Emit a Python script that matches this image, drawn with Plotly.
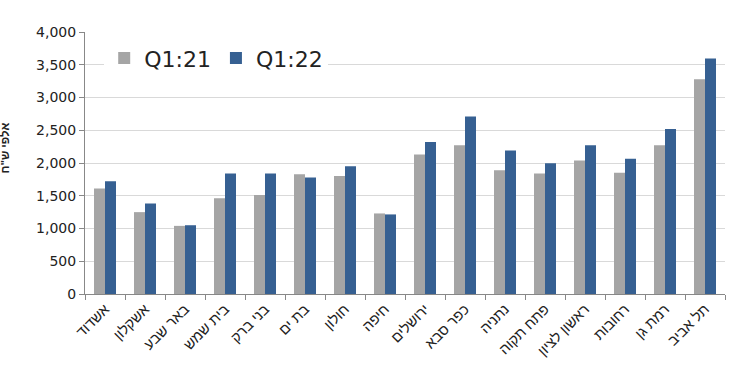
import plotly.graph_objects as go

cities = ["אשדוד", "אשקלון", "באר שבע", "בית שמש", "בני ברק", "בת ים", "חולון", "חיפה",
          "ירושלים", "כפר סבא", "נתניה", "פתח תקוה", "ראשון לציון", "רחובות", "רמת גן", "תל אביב"]
q1_21 = [1610, 1250, 1040, 1460, 1510, 1830, 1800, 1230, 2130, 2270, 1890, 1840, 2040, 1850, 2270, 3280]
q1_22 = [1720, 1380, 1050, 1840, 1840, 1780, 1950, 1215, 2320, 2710, 2190, 1995, 2270, 2065, 2520, 3595]
y_tick_vals = [0, 500, 1000, 1500, 2000, 2500, 3000, 3500, 4000]

fig = go.Figure()
fig.add_trace(go.Bar(x=cities, y=q1_21, name="Q1:21", marker=dict(color="#A5A5A5", line=dict(width=0))))
fig.add_trace(go.Bar(x=cities, y=q1_22, name="Q1:22", marker=dict(color="#366092", line=dict(width=0))))

font_family = "DejaVu Sans, Liberation Sans, Arial"
heb_family = "Liberation Sans, Arial, DejaVu Sans"
fig.update_layout(
    width=730, height=375,
    margin=dict(l=85, r=5, t=32, b=81),
    paper_bgcolor="white", plot_bgcolor="white",
    barmode="group", bargap=0.45, bargroupgap=0,
    font=dict(family=font_family, color="#222222"),
    showlegend=True,
    legend=dict(orientation="h", x=0.03, y=0.98, xanchor="left", yanchor="top",
                bgcolor="white", font=dict(size=22, family=font_family, color="#222222"),
                itemsizing="constant", tracegroupgap=0, itemwidth=30),
    xaxis=dict(type="category", showgrid=False, showline=True, linecolor="#888888", linewidth=1,
               ticks="outside", tickson="boundaries", ticklen=5, tickcolor="#888888",
               tickangle=-45, tickfont=dict(size=14.5, family=heb_family, color="#222222")),
    yaxis=dict(range=[0, 4000], tickvals=y_tick_vals, tickformat=",d",
               showgrid=True, gridcolor="#D9D9D9", gridwidth=1,
               showline=True, linecolor="#888888", linewidth=1,
               ticks="outside", ticklen=5, tickcolor="#888888",
               tickfont=dict(size=14, family=font_family, color="#222222"), zeroline=False),
    annotations=[dict(text="אלפי ש\"ח", textangle=-90, xref="paper", yref="paper",
                      x=-0.125, y=0.555, xanchor="center", yanchor="middle", showarrow=False,
                      font=dict(size=11.5, family=heb_family, color="#222222", weight="bold"))],
)

fig.write_html("out.html")
